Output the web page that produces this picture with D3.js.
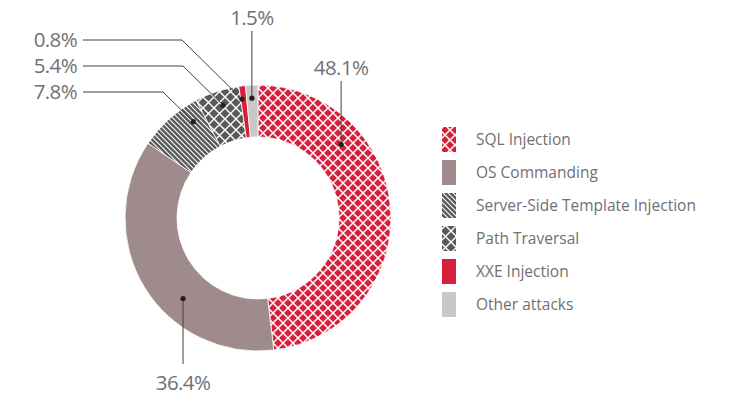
<!DOCTYPE html>
<html>
<head>
<meta charset="utf-8">
<script src="https://cdn.jsdelivr.net/npm/d3@7"></script>
<style>
  body { margin: 0; background: #fff; }
  svg text { font-family: "Open Sans", sans-serif; fill: #707073; }
</style>
</head>
<body>
<svg id="chart" width="730" height="408"></svg>
<script>
// chart data
const categories = ["SQL Injection", "OS Commanding", "Server-Side Template Injection",
  "Path Traversal", "XXE Injection", "Other attacks"];
const shares = [48.1, 36.4, 7.8, 5.4, 0.8, 1.5];
const labels = ["48.1%", "36.4%", "7.8%", "5.4%", "0.8%", "1.5%"];

const svg = d3.select("#chart");
const cx = 258, cy = 218, rOuter = 133, rInner = 81;

// patterns for the hatched slices
const defs = svg.append("defs");
function cross(id, base, size, w) {
  let p = defs.append("pattern").attr("id", id)
    .attr("patternUnits", "userSpaceOnUse")
    .attr("width", size).attr("height", size);
  p.append("rect").attr("width", size).attr("height", size).attr("fill", base);
  p.append("path")
    .attr("d", `M0,0L${size},${size}M${size},0L0,${size}`)
    .attr("stroke", "#fff").attr("stroke-width", w);
}
cross("hatchSql", "#d71f3b", 10, 1.5);
cross("hatchPath", "#58595b", 11, 1.4);

let s = defs.append("pattern").attr("id", "hatchSsti")
  .attr("patternUnits", "userSpaceOnUse")
  .attr("width", 5).attr("height", 5);
s.append("rect").attr("width", 5).attr("height", 5).attr("fill", "#58595b");
s.append("path").attr("d", "M-1,-1L6,6M-1,4L1,6M4,-1L6,1")
  .attr("stroke", "#fff").attr("stroke-width", 1.1);

const fills = ["url(#hatchSql)", "#a08b8c", "url(#hatchSsti)", "url(#hatchPath)", "#d71f3b", "#c8c8c8"];

const pie = d3.pie().sort(null).value(d => d)(shares);
const arc = d3.arc().innerRadius(rInner).outerRadius(rOuter);

const g = svg.append("g").attr("transform", `translate(${cx},${cy})`);
g.selectAll("path.slice")
  .data(pie).enter().append("path")
  .attr("class", "slice")
  .attr("d", arc)
  .attr("fill", (d, i) => fills[i])
  .attr("stroke", "#fff")
  .attr("stroke-width", 0.8);

// leader lines: dot placed at a fraction along the slice, then out to the label
const leaders = [
  { i: 0, f: 0.28, r: 111, textY: 75, vertical: true },
  { i: 1, f: 0.38, r: 110, textY: 390, vertical: true },
  { i: 2, f: 0.78, r: 116, textY: 99, bend: [163, 92] },
  { i: 3, f: 0.54, r: 118, textY: 73, bend: [183, 66] },
  { i: 4, f: 0.2, r: 120, textY: 47, bend: [182, 40] },
  { i: 5, f: 0.46, r: 120, textY: 25, vertical: true }
];

leaders.forEach(l => {
  const d = pie[l.i];
  const a = d.startAngle + (d.endAngle - d.startAngle) * l.f;
  let px = cx + Math.sin(a) * l.r, py = cy - Math.cos(a) * l.r;
  let line;
  if (l.vertical) {
    const endY = l.i === 1 ? l.textY - 26 : l.textY + 6;
    line = `M${px},${py}V${endY}`;
  } else {
    line = `M${px},${py}L${l.bend[0]},${l.bend[1]}H83`;
  }
  svg.append("path").attr("d", line)
    .attr("fill", "none").attr("stroke", "#414042").attr("stroke-width", 1);
  svg.append("circle").attr("cx", px).attr("cy", py).attr("r", 2.6).attr("fill", "#231f20");
  svg.append("text")
    .attr("x", l.vertical ? px : 77)
    .attr("y", l.textY)
    .attr("text-anchor", l.vertical ? "middle" : "end")
    .attr("font-size", 20.5)
    .attr("letter-spacing", -0.6)
    .text(labels[l.i]);
});

// legend
const legendY = d3.scaleBand().domain(categories).range([123, 321]);
const legend = svg.append("g");
legend.selectAll("rect").data(categories).enter().append("rect")
  .attr("x", 442).attr("y", d => legendY(d) + 4)
  .attr("width", 14).attr("height", 25)
  .attr("fill", (d, i) => fills[i]);
legend.selectAll("text").data(categories).enter().append("text")
  .attr("x", 476).attr("y", d => legendY(d) + 22)
  .attr("font-size", 15.5)
  .text(d => d);
</script>
</body>
</html>
